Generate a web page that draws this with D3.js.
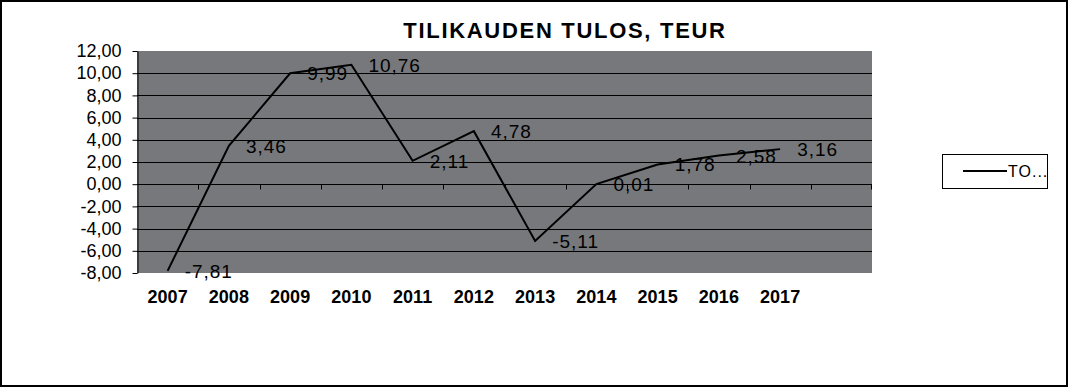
<!DOCTYPE html>
<html>
<head>
<meta charset="utf-8">
<title>Tilikauden tulos</title>
<script src="https://cdn.jsdelivr.net/npm/d3@7"></script>
<style>
	body { margin: 0; background: white; }
	svg { display: block; font-family: Arial, "Liberation Sans", sans-serif; }
	.ylab { font-size: 18px; fill: black; }
	.xlab { font-size: 18px; font-weight: bold; fill: black; }
	.dlab { font-size: 19px; letter-spacing: 1px; fill: black; }
	.title { font-size: 22px; font-weight: bold; letter-spacing: 1.7px; }
	.legtext { font-size: 16px; letter-spacing: 1px; }
</style>
</head>
<body>
<svg id="chart" width="1068" height="387"></svg>
<script>
	var years = ["2007", "2008", "2009", "2010", "2011", "2012", "2013", "2014", "2015", "2016", "2017", ""];
	var values = [-7.81, 3.46, 9.99, 10.76, 2.11, 4.78, -5.11, 0.01, 1.78, 2.58, 3.16];
	var yTicks = [12, 10, 8, 6, 4, 2, 0, -2, -4, -6, -8];
	var chartTitle = "TILIKAUDEN TULOS, TEUR";
	var seriesName = "TO...";

	var plotLeft = 137, plotRight = 872, plotTop = 51, plotBottom = 273;
	// finnish style: comma decimal, plain hyphen for minus
	var fmt = v => d3.format(".2f")(v).replace(".", ",").replace("\u2212", "-");

	var svg = d3.select("#chart");

	// outer frame
	svg.append("rect")
		.attr("x", 1).attr("y", 1).attr("width", 1066).attr("height", 385)
		.attr("fill", "white").attr("stroke", "black").attr("stroke-width", 2);

	var x = d3.scaleBand().domain(years).range([plotLeft, plotRight]);
	var y = d3.scaleLinear().domain([-8, 12]).range([plotBottom, plotTop]);

	svg.append("rect")
		.attr("x", plotLeft).attr("y", plotTop)
		.attr("width", plotRight - plotLeft).attr("height", plotBottom - plotTop)
		.attr("fill", "#76787b");

	// gridlines
	svg.append("g")
		.selectAll("line")
		.data(yTicks.filter(d => d != 12 && d != -8 && d != 0)).enter().append("line")
			.attr("x1", plotLeft).attr("x2", plotRight)
			.attr("y1", d => Math.round(y(d)) + 0.5).attr("y2", d => Math.round(y(d)) + 0.5)
			.attr("stroke", "black");

	// y axis
	var yAxis = svg.append("g")
		.attr("transform", "translate(" + (plotLeft + 0.5) + ",0)")
		.call(d3.axisLeft(y).tickValues(yTicks).tickSize(5).tickSizeOuter(0).tickPadding(11).tickFormat(fmt));
	yAxis.select(".domain").attr("stroke", "black");
	yAxis.selectAll(".tick line").attr("stroke", "black");
	yAxis.selectAll("text").attr("class", "ylab").attr("font-family", null).attr("font-size", null);

	// x axis along zero
	var y0 = Math.round(y(0)) + 0.5;
	svg.append("line")
		.attr("x1", plotLeft).attr("x2", plotRight).attr("y1", y0).attr("y2", y0)
		.attr("stroke", "black");
	svg.append("g")
		.selectAll("line")
		.data(years.slice(1).concat(["end"])).enter().append("line")
			.attr("x1", d => Math.round(d == "end" ? plotRight - 1 : x(d)) + 0.5)
			.attr("x2", d => Math.round(d == "end" ? plotRight - 1 : x(d)) + 0.5)
			.attr("y1", y0).attr("y2", y0 + 5)
			.attr("stroke", "black");

	// category labels
	svg.append("g")
		.selectAll("text")
		.data(years.filter(d => d != "")).enter().append("text")
			.attr("class", "xlab")
			.attr("x", d => x(d) + x.bandwidth() / 2)
			.attr("y", 303)
			.attr("text-anchor", "middle")
			.text(d => d);

	// series line
	var line = d3.line()
		.x((d, i) => x(years[i]) + x.bandwidth() / 2)
		.y(d => y(d));
	svg.append("path")
		.datum(values)
		.attr("d", line)
		.attr("fill", "none")
		.attr("stroke", "black")
		.attr("stroke-width", 2);

	// data labels
	svg.append("g")
		.selectAll("text")
		.data(values).enter().append("text")
			.attr("class", "dlab")
			.attr("x", (d, i) => x(years[i]) + x.bandwidth() / 2 + 17)
			.attr("y", d => y(d))
			.attr("dy", "0.37em")
			.text(d => fmt(d));

	// title
	svg.append("text")
		.attr("class", "title")
		.attr("x", 565).attr("y", 38)
		.attr("text-anchor", "middle")
		.text(chartTitle);

	// legend
	svg.append("clipPath").attr("id", "legclip")
		.append("rect").attr("x", 942).attr("y", 154).attr("width", 106).attr("height", 35);
	svg.append("rect")
		.attr("x", 942.5).attr("y", 154.5).attr("width", 105).attr("height", 34)
		.attr("fill", "white").attr("stroke", "black");
	svg.append("line")
		.attr("x1", 963).attr("x2", 1007).attr("y1", 171).attr("y2", 171)
		.attr("stroke", "black").attr("stroke-width", 2);
	svg.append("text")
		.attr("class", "legtext")
		.attr("clip-path", "url(#legclip)")
		.attr("x", 1008).attr("y", 171).attr("dy", "0.36em")
		.text(seriesName);
</script>
</body>
</html>
